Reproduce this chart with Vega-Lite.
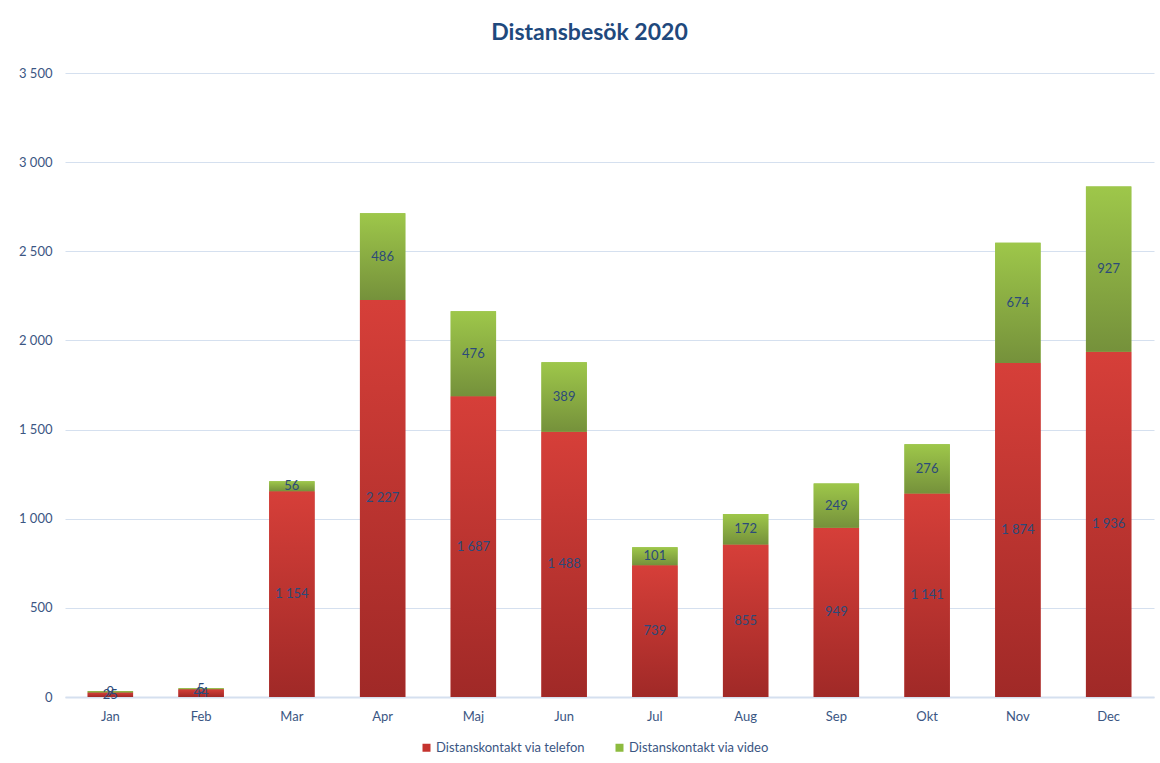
{
  "$schema": "https://vega.github.io/schema/vega-lite/v6.json",
  "autosize": "none",
  "width": 1089,
  "height": 624,
  "padding": {"left": 65, "top": 73, "right": 6, "bottom": 66},
  "background": "white",
  "title": {
    "text": "Distansbesök 2020",
    "anchor": "middle",
    "dx": -20,
    "offset": 22,
    "font": "Lato",
    "fontSize": 23,
    "fontWeight": "bold",
    "color": "#1f497d"
  },
  "config": {
    "locale": {
      "number": {"decimal": ",", "thousands": " ", "grouping": [3], "currency": ["", " kr"]}
    },
    "view": {"stroke": null},
    "font": "Lato"
  },
  "data": {
    "values": [
      {"month": "Jan", "serie": "Distanskontakt via telefon", "value": 25},
      {"month": "Jan", "serie": "Distanskontakt via video", "value": 9},
      {"month": "Feb", "serie": "Distanskontakt via telefon", "value": 44},
      {"month": "Feb", "serie": "Distanskontakt via video", "value": 5},
      {"month": "Mar", "serie": "Distanskontakt via telefon", "value": 1154},
      {"month": "Mar", "serie": "Distanskontakt via video", "value": 56},
      {"month": "Apr", "serie": "Distanskontakt via telefon", "value": 2227},
      {"month": "Apr", "serie": "Distanskontakt via video", "value": 486},
      {"month": "Maj", "serie": "Distanskontakt via telefon", "value": 1687},
      {"month": "Maj", "serie": "Distanskontakt via video", "value": 476},
      {"month": "Jun", "serie": "Distanskontakt via telefon", "value": 1488},
      {"month": "Jun", "serie": "Distanskontakt via video", "value": 389},
      {"month": "Jul", "serie": "Distanskontakt via telefon", "value": 739},
      {"month": "Jul", "serie": "Distanskontakt via video", "value": 101},
      {"month": "Aug", "serie": "Distanskontakt via telefon", "value": 855},
      {"month": "Aug", "serie": "Distanskontakt via video", "value": 172},
      {"month": "Sep", "serie": "Distanskontakt via telefon", "value": 949},
      {"month": "Sep", "serie": "Distanskontakt via video", "value": 249},
      {"month": "Okt", "serie": "Distanskontakt via telefon", "value": 1141},
      {"month": "Okt", "serie": "Distanskontakt via video", "value": 276},
      {"month": "Nov", "serie": "Distanskontakt via telefon", "value": 1874},
      {"month": "Nov", "serie": "Distanskontakt via video", "value": 674},
      {"month": "Dec", "serie": "Distanskontakt via telefon", "value": 1936},
      {"month": "Dec", "serie": "Distanskontakt via video", "value": 927}
    ]
  },
  "transform": [
    {"stack": "value", "groupby": ["month"], "sort": [{"field": "serie", "order": "ascending"}], "as": ["y0", "y1"]},
    {"calculate": "(datum.y0 + datum.y1) / 2", "as": "ymid"}
  ],
  "encoding": {
    "x": {
      "field": "month",
      "type": "nominal",
      "sort": ["Jan", "Feb", "Mar", "Apr", "Maj", "Jun", "Jul", "Aug", "Sep", "Okt", "Nov", "Dec"],
      "scale": {"paddingInner": 0.5, "paddingOuter": 0.25},
      "axis": {
        "title": null,
        "labelAngle": 0,
        "labelFontSize": 13,
        "labelColor": "#3b5683",
        "labelPadding": 13,
        "ticks": false,
        "domainColor": "#d5e0ef",
        "domainWidth": 2
      }
    }
  },
  "layer": [
    {
      "mark": {"type": "bar"},
      "encoding": {
        "y": {
          "field": "y1",
          "type": "quantitative",
          "scale": {"domain": [0, 3500]},
          "axis": {
            "title": null,
            "values": [0, 500, 1000, 1500, 2000, 2500, 3000, 3500],
            "format": ",d",
            "labelFontSize": 13,
            "labelColor": "#3b5683",
            "labelPadding": 13,
            "ticks": false,
            "domain": false,
            "gridColor": "#d5e0ef",
            "gridWidth": 1
          }
        },
        "y2": {"field": "y0"},
        "color": {
          "field": "serie",
          "type": "nominal",
          "scale": {"range": ["#c5332e", "#8dbb3f"]},
          "legend": {
            "title": null,
            "orient": "none",
            "direction": "horizontal",
            "legendX": 355,
            "legendY": 668,
            "symbolType": "square",
            "symbolSize": 64,
            "symbolStrokeWidth": 0,
            "labelFontSize": 13,
            "labelColor": "#3b5683",
            "columnPadding": 28,
            "labelOffset": 3
          }
        }
      }
    },
    {
      "transform": [{"filter": "datum.serie == 'Distanskontakt via telefon'"}],
      "mark": {
        "type": "bar",
        "fill": {
          "gradient": "linear", "x1": 0, "y1": 0, "x2": 0, "y2": 1,
          "stops": [{"offset": 0, "color": "#d63f39"}, {"offset": 1, "color": "#a02927"}]
        }
      },
      "encoding": {
        "y": {"field": "y1", "type": "quantitative"},
        "y2": {"field": "y0"}
      }
    },
    {
      "transform": [{"filter": "datum.serie == 'Distanskontakt via video'"}],
      "mark": {
        "type": "bar",
        "fill": {
          "gradient": "linear", "x1": 0, "y1": 0, "x2": 0, "y2": 1,
          "stops": [{"offset": 0, "color": "#9ec74a"}, {"offset": 1, "color": "#75913b"}]
        }
      },
      "encoding": {
        "y": {"field": "y1", "type": "quantitative"},
        "y2": {"field": "y0"}
      }
    },
    {
      "mark": {"type": "text", "fontSize": 13, "color": "#2c4a7a", "baseline": "middle"},
      "encoding": {
        "y": {"field": "ymid", "type": "quantitative"},
        "text": {"field": "value", "type": "quantitative", "format": ",d"}
      }
    }
  ]
}
